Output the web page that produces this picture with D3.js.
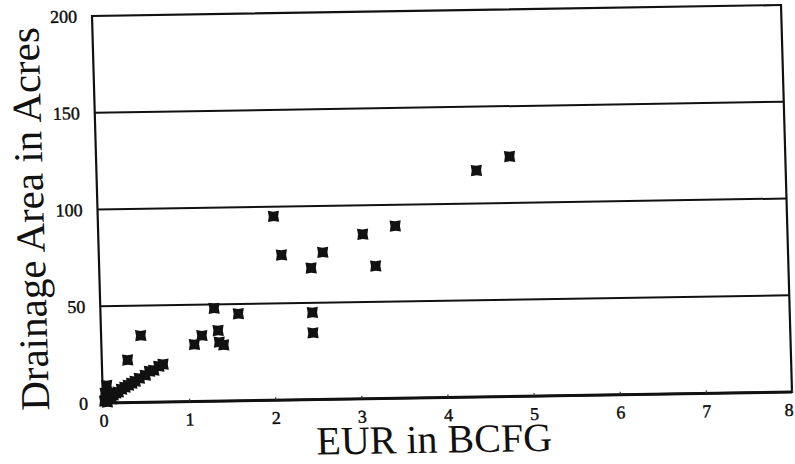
<!DOCTYPE html>
<html>
<head>
<meta charset="utf-8">
<script src="https://cdn.jsdelivr.net/npm/d3@7"></script>
<style>
  body { margin: 0; background: #fff; }
  text { font-family: "Liberation Serif", "Times New Roman", serif; fill: #111; }
</style>
</head>
<body>
<svg id="chart"></svg>
<script>
var width = 795;
var height = 464;

// EUR (BCFG) vs drainage area (acres)
var eurBcfg = [
    0.02, 0.03, 0.04, 0.05, 0.05, 0.08, 0.1, 0.12, 0.15, 0.18, 0.22, 0.26, 0.3, 0.34, 0.38,
    0.43, 0.5, 0.55, 0.6, 0.66, 0.71,
    0.3, 0.46,
    1.08, 1.17, 1.32, 1.36, 1.37, 1.42, 1.6,
    2.04, 2.12, 2.46, 2.46, 2.46, 2.6, 3.07, 3.21, 3.45,
    4.41, 4.8
];
var drainageAcres = [
    1, 5, 2, 0.5, 9, 3, 2, 4, 5, 5.5, 7, 8, 9, 10, 11,
    12.5, 14, 16, 16.5, 18.5, 19.5,
    22, 34.5,
    29.5, 34, 48, 36.5, 30.5, 29, 45,
    95, 75, 68, 45, 34.5, 76, 85, 68.5, 89,
    117, 124
];
var xTicks = [0, 1, 2, 3, 4, 5, 6, 7, 8];
var yTicks = [0, 50, 100, 150, 200];
var gridValues = [50, 100, 150];
var xTitle = 'EUR in BCFG';
var yTitle = 'Drainage Area in Acres';

var points = eurBcfg.map(function (d, i) {
    return [d, drainageAcres[i]];
});

// plot frame size; the scan is slightly skewed, so the whole plot sits in a sheared group
var plotW = 689;
var plotH = 387;

var svg = d3.select('#chart')
    .attr('width', width)
    .attr('height', height);

var g = svg.append('g')
    .attr('transform', 'matrix(1,' + (-11 / 689) + ',' + (11 / 387) + ',1,92,16)');

var x = d3.scaleLinear().domain([0, 8]).range([0, plotW]);
var y = d3.scaleLinear().domain([0, 200]).range([plotH, 0]);

// horizontal grid lines
g.selectAll('line.grid')
    .data(gridValues)
    .enter().append('line')
    .attr('class', 'grid')
    .attr('x1', 0)
    .attr('x2', plotW)
    .attr('y1', function (d) { return y(d); })
    .attr('y2', function (d) { return y(d); })
    .attr('stroke', '#111')
    .attr('stroke-width', 2);

// frame
g.append('rect')
    .attr('x', 0)
    .attr('y', 0)
    .attr('width', plotW)
    .attr('height', plotH)
    .attr('fill', 'none')
    .attr('stroke', '#111')
    .attr('stroke-width', 2.2);

g.append('line')
    .attr('x1', 0).attr('x2', plotW)
    .attr('y1', plotH).attr('y2', plotH)
    .attr('stroke', '#111')
    .attr('stroke-width', 3);

// x axis: tiny inward ticks and labels
var xAxis = d3.axisBottom(x)
    .tickValues(xTicks)
    .tickFormat(d3.format('d'))
    .tickSizeInner(-3)
    .tickSizeOuter(0)
    .tickPadding(11);

var xg = g.append('g')
    .attr('transform', 'translate(0,' + plotH + ')')
    .call(xAxis);
xg.select('.domain').remove();
xg.selectAll('.tick line').attr('stroke', '#333').attr('stroke-width', 1.2);
xg.selectAll('.tick text')
    .style('font-family', '"Liberation Serif", serif')
    .style('font-size', '18px')
    .attr('fill', '#000')
    .attr('stroke', '#000')
    .attr('stroke-width', 0.4)
    .attr('dx', function (d) { return d === 8 ? -4 : 0; });

// y axis labels only (grid lines stand in for ticks)
var yAxis = d3.axisLeft(y)
    .tickValues(yTicks)
    .tickFormat(d3.format('d'))
    .tickSize(0)
    .tickPadding(15);

var yg = g.append('g').call(yAxis);
yg.select('.domain').remove();
yg.selectAll('.tick text')
    .style('font-family', '"Liberation Serif", serif')
    .style('font-size', '18px')
    .attr('fill', '#000')
    .attr('stroke', '#000')
    .attr('stroke-width', 0.4);

// notched square marker, like the scanned plot symbols
var notchedSquare = {
    draw: function (ctx, size) {
        var r = Math.sqrt(size) / 2;
        var n = r * 0.16;
        ctx.moveTo(-r, -r);
        ctx.lineTo(0, -r + n);
        ctx.lineTo(r, -r);
        ctx.lineTo(r - n, 0);
        ctx.lineTo(r, r);
        ctx.lineTo(0, r - n);
        ctx.lineTo(-r, r);
        ctx.lineTo(-r + n, 0);
        ctx.closePath();
    }
};
var symbol = d3.symbol().type(notchedSquare).size(125);

g.selectAll('path.pt')
    .data(points)
    .enter().append('path')
    .attr('class', 'pt')
    .attr('d', symbol)
    .attr('transform', function (d) {
        return 'translate(' + x(d[0]) + ',' + y(d[1]) + ')';
    })
    .attr('fill', '#111');

// axis titles
g.append('text')
    .attr('x', 330)
    .attr('y', plotH + 55)
    .attr('text-anchor', 'middle')
    .style('font-size', '40px')
    .text(xTitle);

g.append('text')
    .attr('transform', 'translate(-54,' + 202 + ') rotate(-90)')
    .attr('text-anchor', 'middle')
    .style('font-size', '41px')
    .text(yTitle);
</script>
</body>
</html>
